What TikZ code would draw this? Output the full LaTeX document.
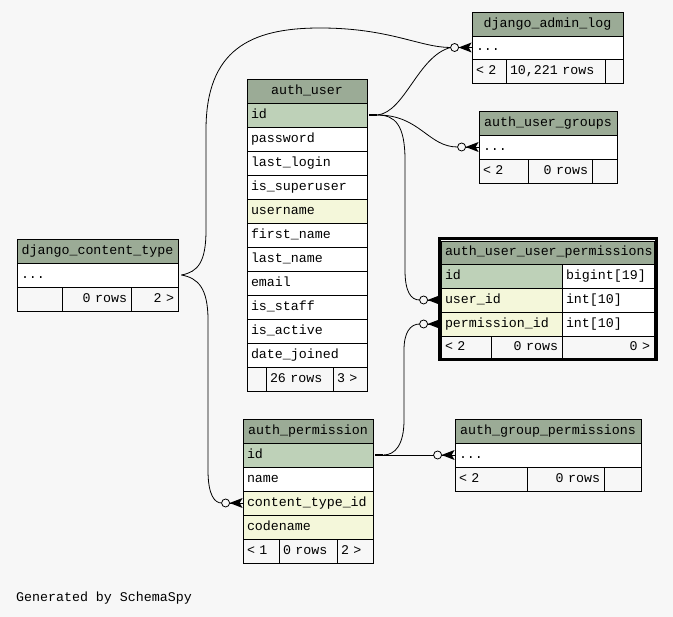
\documentclass[tikz,border=0pt]{standalone}
\usepackage{fontspec}
\setmonofont{Liberation Mono}
\definecolor{hdr}{HTML}{9BAB96}
\definecolor{pk}{HTML}{BED1B8}
\definecolor{idx}{HTML}{F4F7DA}
\definecolor{bg}{HTML}{F7F7F7}
% one table cell: name, x1, y1, x2, y2, fill, alignment, text
\newcommand\tcell[8]{%
  \pgfmathsetmacro\cw{#4-#2}%
  \pgfmathsetmacro\ch{#5-#3}%
  \pgfmathsetmacro\tw{#4-#2-8}%
  \node[cellbox, fill=#6, minimum width=\cw pt, minimum height=\ch pt,
        text width=\tw pt, align=#7] (#1) at ({(#2+#4)/2},{(#3+#5)/2}) {\mbox{#8}};}
% zero-or-many end (circle + crow foot) on the west side of a cell
\newcommand\crowfoot[2]{%
  \coordinate (#2) at ([xshift=-21pt]#1.west);
  \draw[edge, fill=bg] ([xshift=-17pt]#1.west) circle (4pt);
  \fill ([xshift=-13pt]#1.west) -- ([yshift=5pt]#1.west) -- ([xshift=-3pt]#1.west)
        -- ([yshift=-5pt]#1.west) -- cycle;
  \draw[edge] ([xshift=-13pt]#1.west) -- (#1.west);}
% one-end mark on the east side of a cell
\newcommand\onemark[2]{%
  \coordinate (#2) at ([xshift=10pt]#1.east);
  \draw[line width=2pt] ([xshift=2pt]#1.east) -- (#2);}
\begin{document}
\begin{tikzpicture}[x=1pt,y=-1pt,
  cellbox/.style={draw=black, line width=0.8pt, inner xsep=4pt, inner ysep=0pt,
    text height=9.5pt, text depth=2.5pt, font=\ttfamily\fontsize{13.3}{15}\selectfont},
  edge/.style={draw=black, line width=0.8pt},
  credit/.style={font=\ttfamily\fontsize{13.3}{15}\selectfont, anchor=west, inner sep=0pt}]
\fill[bg] (0,0) rectangle (673,617);
\useasboundingbox (0,0) rectangle (673,617);

% django_admin_log
\tcell{dal-hd}{472}{12}{623}{36}{hdr}{center}{django\_admin\_log}
\tcell{dal-r1}{472}{36}{623}{59}{white}{left}{...}
\tcell{dal-f1}{472}{59}{506}{83}{bg}{left}{< 2}
\tcell{dal-f2}{506}{59}{605}{83}{bg}{left}{10,221 rows}
\tcell{dal-f3}{605}{59}{623}{83}{bg}{left}{}

% auth_user
\tcell{au-hd}{247}{79}{367}{103}{hdr}{center}{auth\_user}
\tcell{au-id}{247}{103}{367}{127}{pk}{left}{id}
\tcell{au-pw}{247}{127}{367}{151}{white}{left}{password}
\tcell{au-ll}{247}{151}{367}{175}{white}{left}{last\_login}
\tcell{au-su}{247}{175}{367}{199}{white}{left}{is\_superuser}
\tcell{au-un}{247}{199}{367}{223}{idx}{left}{username}
\tcell{au-fn}{247}{223}{367}{247}{white}{left}{first\_name}
\tcell{au-ln}{247}{247}{367}{271}{white}{left}{last\_name}
\tcell{au-em}{247}{271}{367}{295}{white}{left}{email}
\tcell{au-st}{247}{295}{367}{319}{white}{left}{is\_staff}
\tcell{au-ac}{247}{319}{367}{343}{white}{left}{is\_active}
\tcell{au-dj}{247}{343}{367}{367}{white}{left}{date\_joined}
\tcell{au-f1}{247}{367}{266}{391}{bg}{left}{}
\tcell{au-f2}{266}{367}{333}{391}{bg}{left}{26 rows}
\tcell{au-f3}{333}{367}{367}{391}{bg}{left}{3 >}

% auth_user_groups
\tcell{aug-hd}{479}{111}{617}{135}{hdr}{center}{auth\_user\_groups}
\tcell{aug-r1}{479}{135}{617}{159}{white}{left}{...}
\tcell{aug-f1}{479}{159}{528}{183}{bg}{left}{< 2}
\tcell{aug-f2}{528}{159}{592}{183}{bg}{right}{0 rows}
\tcell{aug-f3}{592}{159}{617}{183}{bg}{left}{}

% auth_user_user_permissions
\tcell{auup-hd}{441}{241}{654}{264}{hdr}{center}{auth\_user\_user\_permissions}
\tcell{auup-id}{441}{264}{562}{288}{pk}{left}{id}
\tcell{auup-idt}{562}{264}{654}{288}{white}{left}{bigint[19]}
\tcell{auup-uid}{441}{288}{562}{312}{idx}{left}{user\_id}
\tcell{auup-uidt}{562}{288}{654}{312}{white}{left}{int[10]}
\tcell{auup-pid}{441}{312}{562}{336}{idx}{left}{permission\_id}
\tcell{auup-pidt}{562}{312}{654}{336}{white}{left}{int[10]}
\tcell{auup-f1}{441}{336}{491}{358}{bg}{left}{< 2}
\tcell{auup-f2}{491}{336}{562}{358}{bg}{right}{0 rows}
\tcell{auup-f3}{562}{336}{654}{358}{bg}{right}{0 >}
\draw[line width=3pt] (439,239) rectangle (656,360);

% django_content_type
\tcell{dct-hd}{17}{239}{178}{263}{hdr}{center}{django\_content\_type}
\tcell{dct-r1}{17}{263}{178}{287}{white}{left}{...}
\tcell{dct-f1}{17}{287}{62}{311}{bg}{left}{}
\tcell{dct-f2}{62}{287}{131}{311}{bg}{right}{0 rows}
\tcell{dct-f3}{131}{287}{178}{311}{bg}{right}{2 >}

% auth_permission
\tcell{ap-hd}{243}{419}{373}{443}{hdr}{center}{auth\_permission}
\tcell{ap-id}{243}{443}{373}{467}{pk}{left}{id}
\tcell{ap-nm}{243}{467}{373}{491}{white}{left}{name}
\tcell{ap-ct}{243}{491}{373}{515}{idx}{left}{content\_type\_id}
\tcell{ap-cn}{243}{515}{373}{539}{idx}{left}{codename}
\tcell{ap-f1}{243}{539}{279}{563}{bg}{left}{< 1}
\tcell{ap-f2}{279}{539}{337}{563}{bg}{left}{0 rows}
\tcell{ap-f3}{337}{539}{373}{563}{bg}{left}{2 >}

% auth_group_permissions
\tcell{agp-hd}{455}{419}{641}{443}{hdr}{center}{auth\_group\_permissions}
\tcell{agp-r1}{455}{443}{641}{467}{white}{left}{...}
\tcell{agp-f1}{455}{467}{527}{491}{bg}{left}{< 2}
\tcell{agp-f2}{527}{467}{604}{491}{bg}{right}{0 rows}
\tcell{agp-f3}{604}{467}{641}{491}{bg}{left}{}

% relationship ends
\onemark{au-id}{au-out}
\onemark{ap-id}{ap-out}
\coordinate (dct-out) at ([xshift=3pt]dct-r1.east);
\crowfoot{dal-r1}{dal-in}
\crowfoot{aug-r1}{aug-in}
\crowfoot{auup-uid}{uid-in}
\crowfoot{auup-pid}{pid-in}
\crowfoot{ap-ct}{ct-in}
\crowfoot{agp-r1}{agp-in}

% relationships
\draw[edge] (dct-out) .. controls (198,272) and (206,262) .. (206,230)
  -- (206,130) .. controls (206,50) and (250,28) .. (320,28)
  .. controls (390,28) and (420,47.5) .. (dal-in);
\draw[edge] (dct-out) .. controls (198,278) and (208,288) .. (208,320)
  -- (208,470) .. controls (208,496) and (215,503) .. (ct-in);
\draw[edge] (au-out) .. controls (405,112) and (418,56) .. (dal-in);
\draw[edge] (au-out) .. controls (420,115) and (428,147) .. (aug-in);
\draw[edge] (au-out) .. controls (395,115) and (405,125) .. (405,160)
  -- (405,270) .. controls (405,292) and (411,300) .. (uid-in);
\draw[edge] (ap-out) .. controls (395,455) and (404,445) .. (404,420)
  -- (404,350) .. controls (404,333) and (410,324) .. (pid-in);
\draw[edge] (ap-out) -- (agp-in);

\node[credit] (credit) at (16,598) {Generated by SchemaSpy};
\end{tikzpicture}
\end{document}
